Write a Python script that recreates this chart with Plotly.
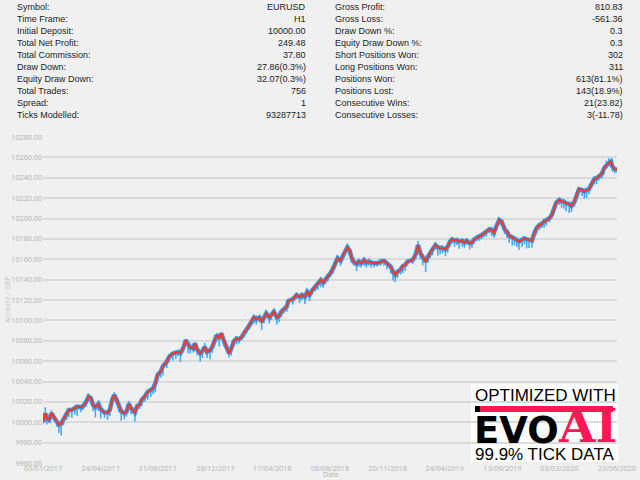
import plotly.graph_objects as go

# ---- data ----
stats_left = ["Symbol:", "Time Frame:", "Initial Deposit:", "Total Net Profit:", "Total Commission:",
              "Draw Down:", "Equity Draw Down:", "Total Trades:", "Spread:", "Ticks Modelled:"]
stats_left_vals = ["EURUSD", "H1", "10000.00", "249.48", "37.80",
                   "27.86(0.3%)", "32.07(0.3%)", "756", "1", "93287713"]
stats_right = ["Gross Profit:", "Gross Loss:", "Draw Down %:", "Equity Draw Down %:", "Short Positions Won:",
               "Long Positions Won:", "Positions Won:", "Positions Lost:", "Consecutive Wins:", "Consecutive Losses:"]
stats_right_vals = ["810.83", "-561.36", "0.3", "0.3", "302",
                    "311", "613(81.1%)", "143(18.9%)", "21(23.82)", "3(-11.78)"]

tick_trades = [0, 76, 151, 227, 302, 378, 454, 529, 605, 680, 756]
tick_dates = ["03/01/2017", "24/04/2017", "31/08/2017", "28/12/2017", "17/04/2018", "08/08/2018",
              "20/11/2018", "24/04/2019", "13/09/2019", "03/03/2020", "23/06/2020"]

trade_no = [0, 3, 5, 8, 11, 15, 18, 21, 24, 27, 31, 34, 38, 42, 45, 50, 53, 57, 60, 63,
            66, 69, 73, 76, 81, 85, 88, 91, 94, 97, 100, 103, 107, 110, 113, 116, 121, 124, 127, 130,
            134, 138, 142, 145, 148, 151, 155,
            158, 163, 166, 171, 175, 178, 181, 185, 188, 191, 194, 198, 200, 203, 207, 210, 213, 216, 220, 223,
            226, 229, 232, 235, 238, 242, 245, 248, 251, 255, 258, 262, 265, 268, 272, 275, 278, 281, 285, 288,
            291, 294, 298, 301, 304, 308, 311, 314, 317, 321, 323,
            329, 334, 338, 341, 345, 348, 351, 354, 359, 362, 366, 369, 372, 375, 379, 382, 385, 388, 392, 395,
            398, 401, 404, 406, 409, 413, 416, 419, 423, 426, 429, 432, 436, 440, 445, 449, 453, 458, 461, 464,
            467, 471, 474, 477, 480,
            487, 491, 494, 497, 500, 504, 507, 510, 513, 517, 520, 523, 526, 530, 533, 536, 539, 542, 545, 548,
            552, 555, 558, 562, 565, 568, 571, 575, 578, 581, 584, 588, 591, 594, 597, 601, 604, 608, 611, 614,
            618, 621, 624, 627, 631, 634, 637, 640, 644, 647, 650, 654, 657, 660, 663, 667, 670, 673, 676, 680,
            683, 686, 689, 693, 696, 700, 703, 706, 710, 713, 716, 719, 723, 726, 729, 732, 736, 739, 742, 745,
            748, 750, 753, 756]

balance = [10000.0, 10008.8, 10003.9, 10002.3, 10008.8, 10004.9, 10000.7, 9997.4, 9999.0, 10002.9,
           10007.2, 10012.1, 10012.1, 10013.7, 10015.4, 10014.7, 10016.0, 10020.3, 10025.2, 10023.6,
           10017.0, 10014.7, 10018.0, 10012.8, 10009.5, 10009.5, 10012.1, 10021.9, 10026.8, 10021.9,
           10017.0, 10010.5, 10008.8, 10010.5, 10018.0, 10013.7, 10009.5, 10016.0, 10017.0, 10021.9,
           10025.2, 10030.1, 10031.8, 10033.4, 10038.3, 10046.5, 10049.8,
           10055.0, 10059.3, 10064.0, 10067.5, 10068.0, 10069.0, 10068.0, 10073.4, 10080.6, 10075.7,
           10073.4, 10072.4, 10077.4, 10071.5, 10067.5, 10070.0, 10074.0, 10069.0, 10070.8, 10074.0,
           10080.6, 10085.5, 10082.3, 10087.2, 10080.6, 10074.0, 10067.5, 10072.4, 10079.0, 10082.3,
           10081.3, 10084.0, 10088.8, 10091.0, 10095.4, 10100.3, 10102.9, 10101.0, 10102.9, 10098.7,
           10102.0, 10106.8, 10102.9, 10105.2, 10108.5, 10102.9, 10104.2, 10108.5, 10110.7, 10113.4,
           10119.0,
           10120.7, 10125.0, 10123.0, 10125.0, 10123.0, 10128.0, 10125.0, 10129.0, 10133.8, 10136.4,
           10139.6, 10137.0, 10139.6, 10143.0, 10146.8, 10151.0, 10156.0, 10161.0, 10158.6, 10164.2,
           10167.5, 10171.7, 10168.5, 10162.6, 10157.7, 10155.4, 10157.7, 10156.0, 10159.3, 10156.7,
           10157.7, 10156.7, 10156.0, 10156.0, 10157.7, 10158.6, 10156.0, 10152.7, 10147.8, 10144.6,
           10147.8, 10150.0, 10153.4, 10154.4, 10157.7,
           10159.3, 10165.0, 10174.0, 10166.0, 10162.0, 10157.7, 10162.6, 10166.0, 10170.8, 10174.0,
           10171.8, 10170.8, 10170.8, 10169.8, 10172.4, 10177.4, 10179.6, 10178.3, 10179.0, 10177.4,
           10178.3, 10176.4, 10178.3, 10175.7, 10176.4, 10179.6, 10180.6, 10183.0, 10183.9, 10185.5,
           10187.2, 10189.5, 10188.8, 10186.2, 10192.0, 10198.6, 10197.0, 10189.5, 10187.2, 10183.0,
           10181.6, 10179.6, 10179.0, 10177.4, 10179.0, 10180.6, 10179.6, 10179.0, 10178.3, 10185.5,
           10190.4, 10193.7, 10194.7, 10197.0, 10198.0, 10200.3, 10203.5, 10209.0, 10215.7, 10218.3,
           10216.6, 10216.6, 10215.0, 10214.3, 10212.4, 10216.6, 10224.8, 10228.8, 10228.0, 10226.5,
           10228.0, 10228.8, 10234.6, 10238.6, 10239.6, 10241.2, 10243.8, 10249.4, 10252.6, 10254.3,
           10256.0, 10251.0, 10248.4, 10248.0]

# equity excursions around the balance line (blue spikes)
equity_down = [2, 3, 6, 3, 4, 4, 5, 8, 12, 6, 5, 7, 8, 6, 9, 5, 4, 5, 3, 4,
               6, 10, 7, 9, 5, 7, 6, 4, 5, 4, 7, 9, 6, 5, 4, 6, 9, 5, 4, 6,
               5, 8, 7, 6, 9, 5, 6,
               9, 6, 5, 7, 6, 4, 9, 5, 4, 8, 6, 4, 5, 6, 8, 7, 5, 6, 9, 6,
               5, 4, 8, 5, 6, 5, 4, 7, 5, 6, 4, 3, 5, 4, 4, 5, 6, 5, 4, 8,
               5, 4, 6, 5, 4, 7, 6, 5, 4, 5, 3,
               5, 4, 6, 5, 7, 5, 6, 4, 5, 6, 7, 5, 4, 5, 4, 5, 4, 3, 5, 4,
               3, 4, 5, 6, 4, 7, 5, 4, 6, 5, 4, 5, 4, 3, 4, 5, 6, 7, 9, 7,
               6, 5, 7, 6, 4,
               4, 5, 3, 6, 8, 10, 6, 5, 7, 4, 8, 6, 5, 7, 6, 5, 4, 6, 5, 7,
               6, 5, 4, 6, 5, 4, 3, 5, 4, 4, 5, 4, 6, 5, 4, 3, 4, 5, 6, 7,
               8, 6, 7, 8, 7, 6, 9, 8, 7, 5, 6, 5, 4, 6, 5, 4, 3, 5, 4, 5,
               6, 7, 8, 9, 6, 5, 4, 5, 6, 7, 8, 5, 4, 5, 6, 4, 5, 6, 4, 3,
               4, 5, 4, 3]
equity_up = [1, 6, 2, 1, 3, 1, 1, 1, 2, 1, 2, 2, 1, 3, 1, 2, 1, 2, 3, 2,
             1, 1, 2, 1, 1, 1, 2, 4, 3, 2, 1, 1, 1, 2, 3, 1, 1, 2, 2, 3,
             2, 1, 2, 1, 2, 2, 2,
             2, 2, 3, 1, 2, 1, 2, 3, 1, 1, 2, 5, 1, 2, 1, 2, 4, 1, 2, 3,
             5, 2, 4, 1, 1, 2, 1, 2, 3, 2, 1, 2, 1, 2, 3, 2, 1, 4, 2, 1,
             2, 3, 1, 2, 3, 1, 2, 2, 3, 1, 2,
             2, 1, 3, 1, 2, 3, 1, 2, 1, 2, 1, 2, 1, 2, 3, 2, 2, 3, 1, 2,
             3, 2, 2, 1, 2, 1, 3, 2, 1, 2, 3, 1, 2, 2, 3, 1, 1, 2, 1, 1,
             2, 3, 2, 1, 2,
             2, 3, 4, 1, 2, 1, 2, 3, 1, 2, 1, 2, 3, 1, 2, 3, 1, 2, 1, 2,
             1, 3, 1, 2, 1, 2, 3, 2, 1, 2, 1, 2, 3, 4, 1, 2, 1, 2, 1, 3,
             1, 2, 1, 1, 2, 1, 2, 1, 2, 3, 2, 1, 2, 3, 1, 2, 3, 2, 1, 2,
             3, 2, 1, 1, 2, 3, 2, 1, 2, 3, 2, 1, 2, 3, 2, 1, 2, 3, 4, 5,
             2, 1, 1, 2]

y_ticks = list(range(9960, 10281, 20))

# plot area in pixels
L, R, T, B = 43, 617, 137, 463


def px(x):
    return (x - L) / (R - L)


def py(y):
    return (B - y) / (B - T)


def note(x, y, text, font, xanchor="center", **kw):
    return dict(x=px(x), y=py(y), xref="paper", yref="paper", text=text, showarrow=False,
                xanchor=xanchor, yanchor="middle", font=font, **kw)


fig = go.Figure()

# equity (blue) underneath, drawn as band with spikes
fig.add_trace(go.Scatter(
    x=trade_no, y=balance, mode="lines",
    line=dict(color="#2b9af3", width=4.5),
    error_y=dict(type="data", symmetric=False, array=equity_up, arrayminus=equity_down,
                 color="#45aaf5", thickness=1.6, width=0),
    hoverinfo="skip", showlegend=False))

# balance (red)
fig.add_trace(go.Scatter(
    x=trade_no, y=balance, mode="lines",
    line=dict(color="#f23a2c", width=2.2),
    showlegend=False))

annotations = []
font_tbl = dict(family="Liberation Sans, Arial, sans-serif", size=9, color="#1c1c1c")
for i in range(len(stats_left)):
    yy = 6.5 + 12 * i
    annotations.append(note(15, yy, stats_left[i], font_tbl, "left"))
    annotations.append(note(308, yy, stats_left_vals[i], font_tbl, "right"))
    annotations.append(note(333, yy, stats_right[i], font_tbl, "left"))
    annotations.append(note(625, yy, stats_right_vals[i], font_tbl, "right"))

axis_font = dict(family="Open Sans, sans-serif", size=7.2, color="#b0b0b0")
annotations.append(note(330, 474.5, "Date", dict(family="Open Sans, sans-serif", size=7, color="#b0b0b0")))
annotations.append(note(7, 300, "Account / GBP", dict(family="Open Sans, sans-serif", size=7, color="#c4c4c4"),
                        textangle=-90))

# logo
logo_font = "Liberation Sans, Arial, sans-serif"
annotations.append(note(545, 395.5, "OPTIMIZED WITH", dict(family=logo_font, size=17, color="#000000")))
annotations.append(note(472, 430.5, "<b>EVO</b>", dict(family="DejaVu Sans, sans-serif", size=37, color="#000000"),
                        "left"))
annotations.append(note(587, 425, "<b>AI</b>", dict(family="DejaVu Serif, serif", size=47, color="#ff1654")))
annotations.append(note(545, 454, "99.9% TICK DATA", dict(family=logo_font, size=17, color="#000000")))

shapes = [
    dict(type="rect", xref="paper", yref="paper", x0=px(471), x1=px(618), y0=py(462), y1=py(384),
         fillcolor="#ffffff", line=dict(width=0), layer="between"),
    dict(type="rect", xref="paper", yref="paper", x0=px(480), x1=px(613), y0=py(412), y1=py(406),
         fillcolor="#ff1654", line=dict(width=0), layer="between"),
    dict(type="rect", xref="paper", yref="paper", x0=px(475), x1=px(480), y0=py(412), y1=py(406),
         fillcolor="#000000", line=dict(width=0), layer="between"),
]

fig.update_layout(
    width=640, height=480,
    margin=dict(l=L, r=640 - R, t=T, b=480 - B, autoexpand=False),
    paper_bgcolor="#f0f0f0", plot_bgcolor="#f0f0f0",
    xaxis=dict(range=[0, 756], tickvals=tick_trades, ticktext=tick_dates, automargin=False,
               showgrid=False, zeroline=False, showline=False, ticks="",
               tickfont=axis_font),
    yaxis=dict(range=[9960, 10280], tickvals=y_ticks, tickformat=".2f", automargin=False,
               showgrid=True, gridcolor="#dadada", gridwidth=1.5, zeroline=False,
               showline=False, ticks="", tickfont=axis_font),
    annotations=annotations,
    shapes=shapes,
)

# drop the browser's default page margin so the figure sits at the top-left corner
fig.write_html("out.html", config={"displayModeBar": False},
               post_script="document.body.style.margin='0';")
